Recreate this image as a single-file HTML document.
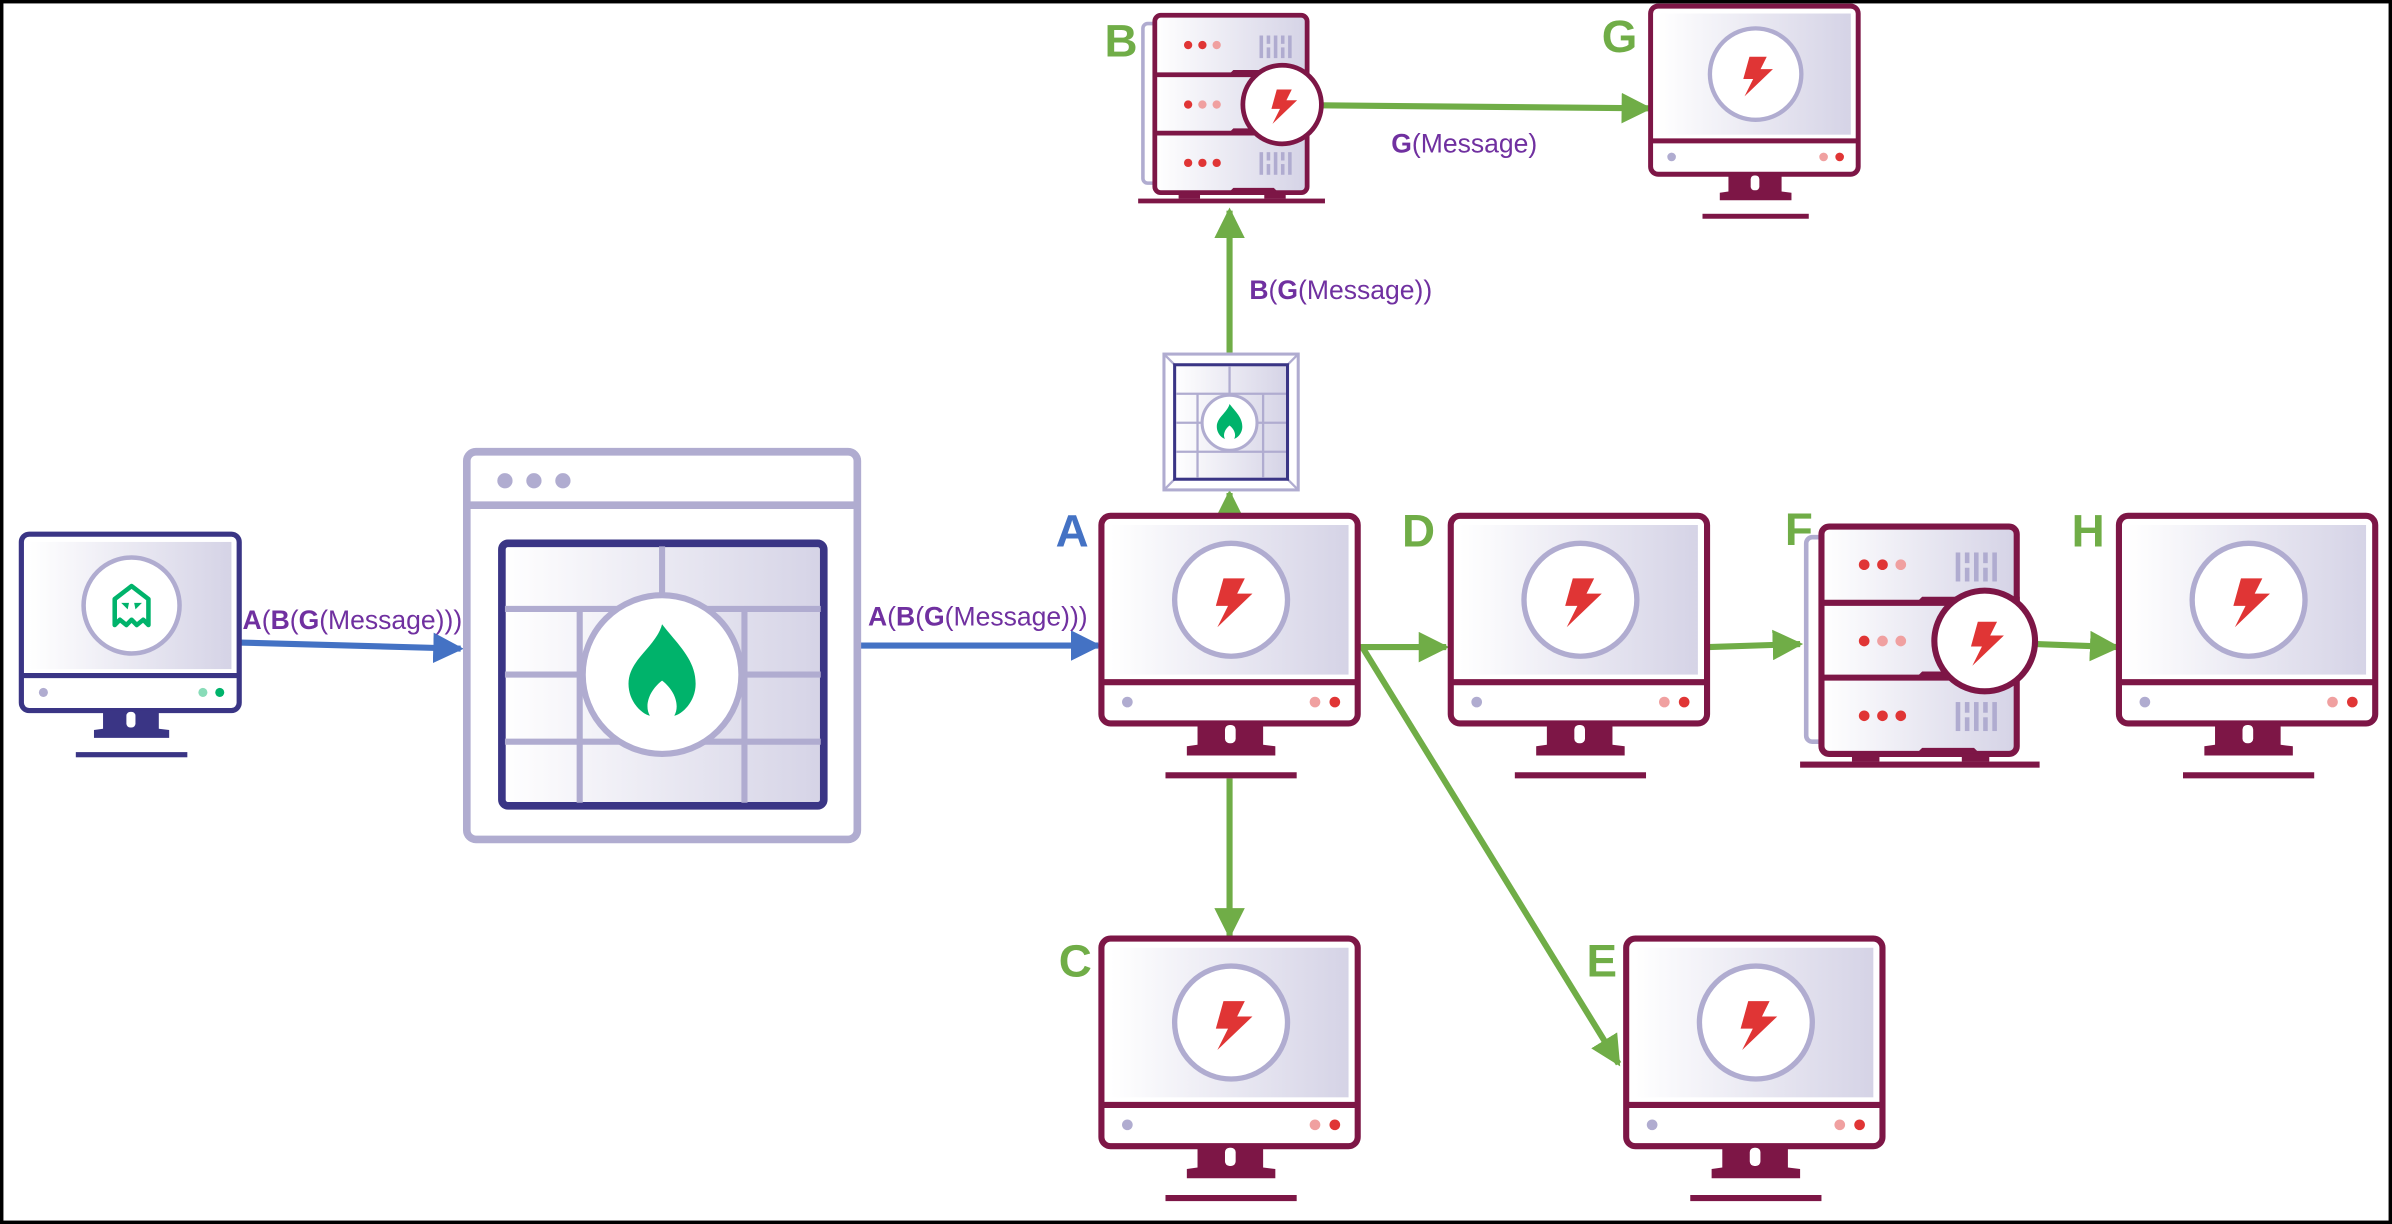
<!DOCTYPE html>
<html><head><meta charset="utf-8"><style>
html,body{margin:0;padding:0;background:#fff;}
svg{display:block;}
text{font-family:"Liberation Sans",sans-serif;}
</style></head><body>
<svg width="2392" height="1224" viewBox="0 0 1568 802" preserveAspectRatio="none" xmlns="http://www.w3.org/2000/svg">
<defs>
<linearGradient id="scr" x1="0" y1="0" x2="1" y2="0"><stop offset="0" stop-color="#ffffff"/><stop offset="1" stop-color="#d5d3e6"/></linearGradient>
<marker id="ag" viewBox="0 0 10 10" refX="9" refY="5" markerWidth="5" markerHeight="5" orient="auto" markerUnits="strokeWidth"><path d="M0,0 L10,5 L0,10 z" fill="#70ad47"/></marker>
<marker id="ab" viewBox="0 0 10 10" refX="9" refY="5" markerWidth="5" markerHeight="5" orient="auto" markerUnits="strokeWidth"><path d="M0,0 L10,5 L0,10 z" fill="#4472c4"/></marker>
<polygon id="bolt" points="-5,-14 9,-14 4,-4 14,-4 -9,18 -2,4 -10,4" fill="#e03535"/>
<g id="mon">
  <rect x="0" y="0" width="168" height="136" rx="6" fill="#fff" stroke="#7d1646" stroke-width="4"/>
  <rect x="6" y="6" width="156" height="98" fill="url(#scr)"/>
  <line x1="0" y1="109" x2="168" y2="109" stroke="#7d1646" stroke-width="4"/>
  <circle cx="85" cy="55" r="37" fill="#fff" stroke="#b0acd0" stroke-width="3.5"/>
  <use href="#bolt" x="85" y="55"/>
  <circle cx="17" cy="122" r="3.5" fill="#b0acd0"/>
  <circle cx="140" cy="122" r="3.5" fill="#f0a0a0"/>
  <circle cx="153" cy="122" r="3.5" fill="#e03535"/>
  <path d="M63,136 L106,136 L106,150 L114,151 L114,157 L56,157 L56,151 L63,150 Z" fill="#7d1646"/>
  <rect x="81" y="137" width="7" height="12" rx="3" fill="#fff"/>
  <rect x="42" y="168" width="86" height="4" fill="#7d1646"/>
</g>
<g id="srv">
  <rect x="-10" y="7" width="16" height="134" rx="4" fill="none" stroke="#b0acd0" stroke-width="3"/>
  <rect x="0" y="0" width="128" height="149" rx="5" fill="url(#scr)" stroke="#7d1646" stroke-width="4"/>
  <line x1="0" y1="50" x2="128" y2="50" stroke="#7d1646" stroke-width="4"/>
  <line x1="0" y1="99" x2="128" y2="99" stroke="#7d1646" stroke-width="4"/>
  <path d="M62,50 L66,46 L130,46 L130,50Z M62,99 L66,95 L130,95 L130,99Z M62,149 L66,145 L100,145 L104,149Z" fill="#7d1646"/>
  <circle cx="28" cy="25" r="3.5" fill="#e03535"/><circle cx="40" cy="25" r="3.5" fill="#e03535"/><circle cx="52" cy="25" r="3.5" fill="#f0a0a0"/>
  <circle cx="28" cy="75" r="3.5" fill="#e03535"/><circle cx="40" cy="75" r="3.5" fill="#f0a0a0"/><circle cx="52" cy="75" r="3.5" fill="#f0a0a0"/>
  <circle cx="28" cy="124" r="3.5" fill="#e03535"/><circle cx="40" cy="124" r="3.5" fill="#e03535"/><circle cx="52" cy="124" r="3.5" fill="#e03535"/>
  <g fill="#b0acd0">
   <rect x="88" y="17" width="3" height="19"/><rect x="94" y="17" width="3" height="7"/><rect x="94" y="27" width="3" height="9"/><rect x="100" y="17" width="3" height="19"/><rect x="106" y="17" width="3" height="7"/><rect x="106" y="27" width="3" height="9"/><rect x="112" y="17" width="3" height="19"/>
   <rect x="88" y="115" width="3" height="19"/><rect x="94" y="115" width="3" height="7"/><rect x="94" y="125" width="3" height="9"/><rect x="100" y="115" width="3" height="19"/><rect x="106" y="115" width="3" height="7"/><rect x="106" y="125" width="3" height="9"/><rect x="112" y="115" width="3" height="19"/>
  </g>
  <rect x="20" y="149" width="18" height="5" fill="#7d1646"/><rect x="92" y="149" width="18" height="5" fill="#7d1646"/>
  <rect x="-14" y="154" width="157" height="4" fill="#7d1646"/>
  <circle cx="107" cy="75" r="33" fill="#fff" stroke="#7d1646" stroke-width="4"/>
  <use href="#bolt" x="107" y="75" transform="translate(107 75) scale(0.9) translate(-107 -75)"/>
</g>
<path id="flame" d="M0,-35 C10,-22 22,-12 22,4 C22,16 13,24 8,25 C12,18 8,8 0,2 C-8,8 -12,18 -8,25 C-13,24 -22,16 -22,4 C-22,-12 -4,-20 0,-35 Z" fill="#00b36b"/>
</defs>

<rect x="1" y="1" width="1566" height="800" fill="#fff" stroke="#000" stroke-width="2.5"/>

<line x1="157" y1="421" x2="302" y2="425" stroke="#4472c4" stroke-width="4" marker-end="url(#ab)"/>
<line x1="563" y1="423" x2="720" y2="423" stroke="#4472c4" stroke-width="4" marker-end="url(#ab)"/>
<line x1="806" y1="338" x2="806" y2="323" stroke="#70ad47" stroke-width="4" marker-end="url(#ag)"/>
<line x1="806" y1="231" x2="806" y2="138" stroke="#70ad47" stroke-width="4" marker-end="url(#ag)"/>
<line x1="866" y1="69" x2="1081" y2="71" stroke="#70ad47" stroke-width="4" marker-end="url(#ag)"/>
<line x1="891" y1="424" x2="948" y2="424" stroke="#70ad47" stroke-width="4" marker-end="url(#ag)"/>
<line x1="893" y1="424" x2="1061" y2="697" stroke="#70ad47" stroke-width="4" marker-end="url(#ag)"/>
<line x1="1120" y1="424" x2="1180" y2="422" stroke="#70ad47" stroke-width="4" marker-end="url(#ag)"/>
<line x1="1335" y1="422" x2="1388" y2="424" stroke="#70ad47" stroke-width="4" marker-end="url(#ag)"/>
<line x1="806" y1="510" x2="806" y2="613" stroke="#70ad47" stroke-width="4" marker-end="url(#ag)"/>

<use href="#mon" x="722" y="338"/>
<use href="#mon" x="951" y="338"/>
<use href="#mon" x="1389" y="338"/>
<use href="#mon" x="722" y="615"/>
<use href="#mon" x="1066" y="615"/>
<use href="#mon" transform="translate(1082 4) scale(0.81)"/>

<use href="#srv" transform="translate(757 10) scale(0.78)"/>
<use href="#srv" x="1194" y="345"/>

<g transform="translate(14 350) scale(0.85)">
  <rect x="0" y="0" width="168" height="136" rx="6" fill="#fff" stroke="#3a3585" stroke-width="4"/>
  <rect x="6" y="6" width="156" height="98" fill="url(#scr)"/>
  <line x1="0" y1="109" x2="168" y2="109" stroke="#3a3585" stroke-width="4"/>
  <circle cx="85" cy="55" r="37" fill="#fff" stroke="#b0acd0" stroke-width="3.5"/>
  <path d="M72,50 L85,40 L98,50 L98,70 L94,66 L89,70 L85,66 L81,70 L76,66 L72,70 Z" fill="none" stroke="#00b36b" stroke-width="3.5" stroke-linejoin="round"/>
  <path d="M77,53 L83,53 L82,58 Z M87,53 L93,53 L88,58 Z" fill="#00b36b"/>
  <circle cx="17" cy="122" r="3.5" fill="#b0acd0"/>
  <circle cx="140" cy="122" r="3.5" fill="#88dcb8"/>
  <circle cx="153" cy="122" r="3.5" fill="#00b36b"/>
  <path d="M63,136 L106,136 L106,150 L114,151 L114,157 L56,157 L56,151 L63,150 Z" fill="#3a3585"/>
  <rect x="81" y="137" width="7" height="12" rx="3" fill="#fff"/>
  <rect x="42" y="168" width="86" height="4" fill="#3a3585"/>
</g>

<rect x="306" y="296" width="256" height="254" rx="6" fill="#fff" stroke="#b0acd0" stroke-width="5"/>
<line x1="306" y1="331" x2="562" y2="331" stroke="#b0acd0" stroke-width="5"/>
<circle cx="331" cy="315" r="5" fill="#b0acd0"/><circle cx="350" cy="315" r="5" fill="#b0acd0"/><circle cx="369" cy="315" r="5" fill="#b0acd0"/>
<rect x="329" y="356" width="211" height="172" rx="4" fill="url(#scr)" stroke="#3a3585" stroke-width="5"/>
<g stroke="#b0acd0" stroke-width="4">
  <line x1="331" y1="399" x2="538" y2="399"/><line x1="331" y1="442" x2="538" y2="442"/><line x1="331" y1="486" x2="538" y2="486"/>
  <line x1="434" y1="358" x2="434" y2="399"/>
  <line x1="380" y1="399" x2="380" y2="486"/><line x1="488" y1="399" x2="488" y2="486"/>
  <line x1="380" y1="486" x2="380" y2="526"/><line x1="488" y1="486" x2="488" y2="526"/>
</g>
<circle cx="434" cy="442" r="52" fill="#fff" stroke="#b0acd0" stroke-width="4"/>
<use href="#flame" x="434" y="444"/>

<rect x="763" y="232" width="88" height="89" fill="#fff" stroke="#b0acd0" stroke-width="2"/>
<g stroke="#b0acd0" stroke-width="1.5"><line x1="763" y1="232" x2="770" y2="239"/><line x1="851" y1="232" x2="844" y2="239"/><line x1="763" y1="321" x2="770" y2="314"/><line x1="851" y1="321" x2="844" y2="314"/></g>
<rect x="770" y="239" width="74" height="75" fill="url(#scr)" stroke="#3a3585" stroke-width="2"/>
<g stroke="#b0acd0" stroke-width="1.5">
  <line x1="771" y1="258" x2="843" y2="258"/><line x1="771" y1="277" x2="843" y2="277"/><line x1="771" y1="296" x2="843" y2="296"/>
  <line x1="806" y1="240" x2="806" y2="258"/>
  <line x1="785" y1="258" x2="785" y2="313"/><line x1="828" y1="258" x2="828" y2="313"/>
</g>
<circle cx="806" cy="277" r="18" fill="#fff" stroke="#b0acd0" stroke-width="2"/>
<use href="#flame" transform="translate(806 278) scale(0.38)"/>

<g font-weight="bold" font-size="30" fill="#70ad47">
  <text x="724" y="37">B</text>
  <text x="1050" y="34">G</text>
  <text x="919" y="358">D</text>
  <text x="1170" y="357">F</text>
  <text x="1358" y="358">H</text>
  <text x="694" y="640">C</text>
  <text x="1040" y="640">E</text>
</g>
<text x="692" y="358" font-weight="bold" font-size="30" fill="#4472c4">A</text>

<g font-size="17.4" fill="#7030a0">
  <text x="159" y="412"><tspan font-weight="bold">A</tspan>(<tspan font-weight="bold">B</tspan>(<tspan font-weight="bold">G</tspan>(Message)))</text>
  <text x="569" y="410"><tspan font-weight="bold">A</tspan>(<tspan font-weight="bold">B</tspan>(<tspan font-weight="bold">G</tspan>(Message)))</text>
  <text x="819" y="196"><tspan font-weight="bold">B</tspan>(<tspan font-weight="bold">G</tspan>(Message))</text>
  <text x="912" y="100"><tspan font-weight="bold">G</tspan>(Message)</text>
</g>
</svg>
</body></html>
